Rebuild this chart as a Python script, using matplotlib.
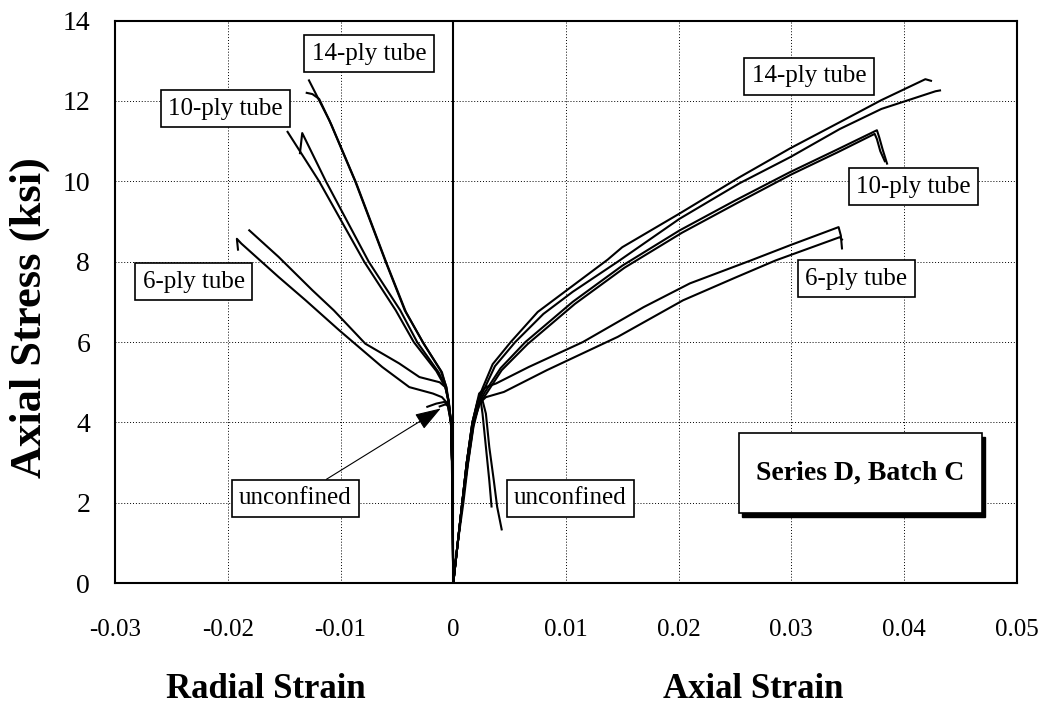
import numpy as np
import matplotlib
matplotlib.use('Agg')
import matplotlib.pyplot as plt
from matplotlib.patches import Rectangle

plt.rcParams['font.family'] = 'Liberation Serif'

# axial side (strain > 0)
ax14a_strain = [0, 0.0004, 0.0008, 0.0012, 0.0017, 0.0022, 0.0026, 0.0035, 0.0051, 0.0075, 0.0106, 0.0137, 0.0150, 0.0201, 0.0254, 0.0299, 0.0343, 0.0380, 0.0419, 0.0424]
ax14a_stress = [0, 1.0, 2.0, 3.0, 4.0, 4.55, 4.85, 5.45, 6.0, 6.75, 7.4, 8.05, 8.36, 9.2, 10.1, 10.82, 11.47, 12.02, 12.54, 12.5]
ax14b_strain = [0, 0.0004, 0.0008, 0.0012, 0.0017, 0.0022, 0.0027, 0.0037, 0.0055, 0.0080, 0.0106, 0.0146, 0.0201, 0.0254, 0.0299, 0.0343, 0.0380, 0.0428, 0.0432]
ax14b_stress = [0, 1.0, 2.0, 3.0, 3.95, 4.5, 4.8, 5.4, 6.0, 6.7, 7.25, 8.0, 9.07, 9.95, 10.6, 11.3, 11.8, 12.24, 12.26]
ax10a_strain = [0, 0.0004, 0.0008, 0.0013, 0.0018, 0.0023, 0.0028, 0.0042, 0.0064, 0.0106, 0.0150, 0.0201, 0.0250, 0.0299, 0.0340, 0.0376, 0.0378, 0.0381, 0.0385]
ax10a_stress = [0, 1.0, 2.0, 3.0, 3.95, 4.5, 4.75, 5.35, 6.0, 7.0, 7.9, 8.78, 9.52, 10.23, 10.78, 11.27, 11.1, 10.8, 10.44]
ax10b_strain = [0, 0.0004, 0.0009, 0.0013, 0.0018, 0.0023, 0.0029, 0.0043, 0.0066, 0.0108, 0.0152, 0.0203, 0.0252, 0.0300, 0.0341, 0.0374, 0.0376, 0.0379, 0.0383]
ax10b_stress = [0, 1.0, 2.0, 2.95, 3.9, 4.45, 4.7, 5.3, 5.95, 6.95, 7.85, 8.72, 9.46, 10.17, 10.72, 11.18, 11.05, 10.75, 10.5]
ax6a_strain = [0, 0.0004, 0.0008, 0.0012, 0.0017, 0.0023, 0.0029, 0.0038, 0.0067, 0.0115, 0.0169, 0.0210, 0.0264, 0.0299, 0.0342, 0.0344, 0.0345]
ax6a_stress = [0, 1.0, 2.0, 3.0, 4.0, 4.72, 4.88, 4.97, 5.38, 6.0, 6.87, 7.46, 8.03, 8.41, 8.86, 8.65, 8.33]
ax6b_strain = [0, 0.0004, 0.0008, 0.0012, 0.0018, 0.0024, 0.0029, 0.0045, 0.0083, 0.0146, 0.0204, 0.0250, 0.0286, 0.0343, 0.0345]
ax6b_stress = [0, 1.0, 2.0, 3.0, 4.0, 4.5, 4.63, 4.76, 5.3, 6.13, 7.04, 7.6, 8.03, 8.61, 8.55]
ax0a_strain = [0, 0.0004, 0.0008, 0.0012, 0.0017, 0.0022, 0.0024, 0.0026, 0.0029, 0.0032, 0.0034]
ax0a_stress = [0, 1.0, 2.0, 3.0, 4.0, 4.55, 4.62, 4.22, 3.39, 2.56, 1.91]
ax0b_strain = [0, 0.0004, 0.0008, 0.0013, 0.0018, 0.0023, 0.0026, 0.0029, 0.0032, 0.0036, 0.0039, 0.0043]
ax0b_stress = [0, 1.0, 2.0, 3.0, 4.0, 4.5, 4.55, 4.22, 3.39, 2.56, 1.9, 1.34]

# radial side (strain < 0)
rad14a_strain = [0, -0.00003, -0.00006, -0.0001, -0.0002, -0.0004, -0.0006, -0.0011, -0.0027, -0.0043, -0.0060, -0.0087, -0.0110, -0.0128]
rad14a_stress = [0, 1, 2, 3, 4, 4.5, 4.88, 5.28, 6.0, 6.79, 8.0, 10.0, 11.52, 12.51]
rad14b_strain = [0, -0.00003, -0.00007, -0.00012, -0.0002, -0.0004, -0.0006, -0.0010, -0.0026, -0.0042, -0.0059, -0.0086, -0.0108, -0.0119, -0.0125, -0.0130]
rad14b_stress = [0, 1, 2, 3, 4, 4.45, 4.85, 5.25, 5.95, 6.75, 7.95, 9.95, 11.4, 12.05, 12.17, 12.2]
rad10a_strain = [0, -0.00003, -0.00006, -0.0001, -0.0002, -0.0004, -0.0007, -0.0015, -0.0035, -0.0051, -0.0079, -0.0119, -0.0147]
rad10a_stress = [0, 1, 2, 3, 4, 4.5, 4.88, 5.28, 6.0, 6.79, 8.0, 10.0, 11.23]
rad10b_strain = [0, -0.00003, -0.00006, -0.0001, -0.0002, -0.0004, -0.0007, -0.0013, -0.0032, -0.0047, -0.0075, -0.0113, -0.0134, -0.0136]
rad10b_stress = [0, 1, 2, 3, 4, 4.5, 4.9, 5.25, 6.0, 6.79, 8.0, 10.0, 11.2, 10.7]
rad6a_strain = [0, -0.00003, -0.00006, -0.0001, -0.0002, -0.0004, -0.0007, -0.0012, -0.0030, -0.0048, -0.0078, -0.0106, -0.0125, -0.0155, -0.0181]
rad6a_stress = [0, 1, 2, 3, 4, 4.55, 4.88, 5.0, 5.13, 5.47, 5.96, 6.79, 7.29, 8.12, 8.78]
rad6b_strain = [0, -0.00003, -0.00006, -0.0001, -0.0002, -0.0005, -0.0010, -0.0018, -0.0039, -0.0063, -0.0101, -0.0131, -0.0155, -0.0188, -0.0192, -0.0191]
rad6b_stress = [0, 1, 2, 3, 4, 4.47, 4.63, 4.72, 4.88, 5.38, 6.29, 7.04, 7.62, 8.45, 8.57, 8.3]
rad0a_strain = [0, -0.00003, -0.00006, -0.0001, -0.0002, -0.0005, -0.0008, -0.0015, -0.0023]
rad0a_stress = [0, 1, 2, 3, 4, 4.45, 4.51, 4.47, 4.39]
rad0b_strain = [0, -0.00002, -0.00005, -0.0001, -0.00018, -0.0004, -0.0007, -0.0012]
rad0b_stress = [0, 1, 2, 3, 4, 4.4, 4.45, 4.4]

x_ticks = [-0.03, -0.02, -0.01, 0, 0.01, 0.02, 0.03, 0.04, 0.05]
x_ticklabels = ['-0.03', '-0.02', '-0.01', '0', '0.01', '0.02', '0.03', '0.04', '0.05']
y_ticks = [0, 2, 4, 6, 8, 10, 12, 14]

curves = [
    (ax14a_strain, ax14a_stress), (ax14b_strain, ax14b_stress),
    (ax10a_strain, ax10a_stress), (ax10b_strain, ax10b_stress),
    (ax6a_strain, ax6a_stress), (ax6b_strain, ax6b_stress),
    (ax0a_strain, ax0a_stress), (ax0b_strain, ax0b_stress),
    (rad14a_strain, rad14a_stress), (rad14b_strain, rad14b_stress),
    (rad10a_strain, rad10a_stress), (rad10b_strain, rad10b_stress),
    (rad6a_strain, rad6a_stress), (rad6b_strain, rad6b_stress),
    (rad0a_strain, rad0a_stress), (rad0b_strain, rad0b_stress),
]

fig = plt.figure(figsize=(10.47, 7.07), dpi=100)
ax = fig.add_axes([0.110, 0.175, 0.861, 0.796])

for s, st in curves:
    ax.plot(s, st, color='black', lw=1.5, solid_joinstyle='round')

ax.axvline(0, color='black', lw=1.5, zorder=1)
ax.set_xlim(-0.03, 0.05)
ax.set_ylim(0, 14)
ax.set_xticks(x_ticks)
ax.set_xticklabels(x_ticklabels)
ax.set_yticks(y_ticks)
ax.grid(True, color='black', linestyle=(0, (1, 2)), linewidth=0.7)
ax.set_axisbelow(True)
for sp in ax.spines.values():
    sp.set_linewidth(1.5)
ax.tick_params(axis='x', length=0, pad=26, labelsize=18)
ax.tick_params(axis='y', length=0, pad=18, labelsize=20)

box = dict(boxstyle='square,pad=0.3', facecolor='white', edgecolor='black', linewidth=1.2)
labels = [
    ('14-ply tube', -0.00747, 13.17),
    ('10-ply tube', -0.0202, 11.80),
    ('6-ply tube', -0.02304, 7.50),
    ('14-ply tube', 0.03158, 12.61),
    ('10-ply tube', 0.04084, 9.86),
    ('6-ply tube', 0.03577, 7.57),
    ('unconfined', 0.01041, 2.11),
]
for txt, x, y in labels:
    ax.text(x, y, txt, fontsize=18, ha='center', va='center', bbox=box, zorder=5)

ax.annotate('unconfined', xy=(-0.0011, 4.35), xytext=(-0.0140, 2.11),
            fontsize=18, ha='center', va='center', bbox=box, zorder=5,
            arrowprops=dict(arrowstyle='-|>,head_length=0.9,head_width=0.3',
                            color='black', lw=0.8, shrinkA=0, shrinkB=0))

# series tag with drop shadow
ax.add_patch(Rectangle((0.02566, 1.66), 0.02153, 1.99, facecolor='black',
                       edgecolor='black', zorder=5))
ax.add_patch(Rectangle((0.02536, 1.741), 0.02153, 1.99, facecolor='white',
                       edgecolor='black', lw=1.2, zorder=6))
ax.text(0.03612, 2.74, 'Series D, Batch C', fontsize=20, fontweight='bold',
        ha='center', va='center', zorder=7)

fig.text(30 / 1047, 1 - 318 / 707, 'Axial Stress (ksi)', rotation=90,
         fontsize=32, fontweight='bold', ha='center', va='center')
fig.text(266 / 1047, 1 - 690 / 707, 'Radial Strain', fontsize=25,
         fontweight='bold', ha='center', va='center')
fig.text(753 / 1047, 1 - 690 / 707, 'Axial Strain', fontsize=25,
         fontweight='bold', ha='center', va='center')

fig.savefig('out.png', dpi=100)
